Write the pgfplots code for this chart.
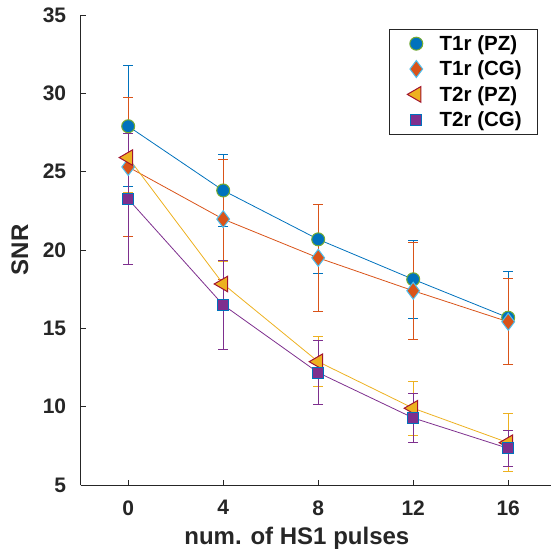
\documentclass[border=0pt]{standalone}
\usepackage{fontspec}
\setmainfont{Liberation Sans}
\usepackage{pgfplots}
\usepackage{pgfplotstable}
\pgfplotsset{compat=1.18}
\definecolor{mblue}{rgb}{0,0.447,0.741}
\definecolor{morange}{rgb}{0.850,0.325,0.098}
\definecolor{myellow}{rgb}{0.929,0.694,0.125}
\definecolor{mpurple}{rgb}{0.494,0.184,0.556}
\definecolor{mgreen}{rgb}{0.466,0.674,0.188}
\definecolor{mcyan}{rgb}{0.301,0.745,0.933}
\definecolor{mred}{rgb}{0.635,0.078,0.184}
\definecolor{axisgray}{rgb}{0.15,0.15,0.15}

\pgfplotstableread{
x y e
0 27.90 3.86
4 23.80 2.30
8 20.68 2.20
12 18.13 2.50
16 15.68 2.98
}\tonepz
\pgfplotstableread{
x y e
0 25.30 4.43
4 21.97 3.84
8 19.50 3.42
12 17.40 3.10
16 15.42 2.74
}\tonecg
\pgfplotstableread{
x y e
0 25.90 2.25
4 17.83 1.45
8 12.87 1.60
12 9.90 1.73
16 7.70 1.86
}\ttwopz
\pgfplotstableread{
x y e
0 23.25 4.20
4 16.49 2.85
8 12.17 2.05
12 9.28 1.57
16 7.34 1.17
}\ttwocg

\begin{document}
\begin{tikzpicture}[x=1pt,y=1pt]
\useasboundingbox (-80.7,-69) rectangle (469.3,485);
\begin{axis}[
  at={(0,0)}, anchor=south west,
  scale only axis, width=475pt, height=470pt,
  xmin=-2, xmax=18, ymin=5, ymax=35,
  xtick={0,4,8,12,16}, ytick={5,10,15,20,25,30,35},
  axis lines=left,
  axis line style={-, draw=axisgray, line width=0.8pt},
  tick align=inside, major tick length=5pt,
  tick style={draw=axisgray, line width=0.8pt},
  /pgf/number format/assume math mode=true,
  ticklabel style={font=\fontsize{21}{21}\selectfont\bfseries, text=axisgray},
  xticklabel style={yshift=-12pt},
  yticklabel style={xshift=-11pt},
  xlabel={num. of HS1 pulses}, ylabel={SNR},
  label style={font=\fontsize{24}{24}\selectfont\bfseries, text=axisgray},
  xlabel style={at={(axis description cs:0.455,-0.113)}, anchor=center},
  ylabel style={at={(axis description cs:-0.128,0.5)}, anchor=center},
  legend style={at={(axis description cs:0.648,0.970)}, anchor=north west,
    draw=axisgray, line width=0.8pt, font=\fontsize{20.5}{20.5}\selectfont\bfseries,
    text=black, row sep=5pt, inner xsep=8pt, inner ysep=4pt},
  legend cell align=left,
  legend image code/.code={\path (0pt,0pt) (40pt,0pt); \draw[#1] plot coordinates {(19pt,0pt)};},
  clip=false,
]
\addplot[mblue, line width=0.8pt, mark=*, mark size=6.5pt,
  mark options={fill=mblue, draw=mgreen, line width=1pt},
  error bars/.cd, y dir=both, y explicit,
  error bar style={mblue, line width=0.8pt},
  error mark options={rotate=90, mark size=5pt, mblue, line width=0.8pt}]
  table[x=x, y=y, y error=e] {\tonepz};
\addlegendentry{T1r (PZ)\hspace*{6pt}}
\addplot[morange, line width=0.8pt, mark=diamond*, mark size=8.5pt,
  mark options={fill=morange, draw=mcyan, line width=1pt},
  error bars/.cd, y dir=both, y explicit,
  error bar style={morange, line width=0.8pt},
  error mark options={rotate=90, mark size=5pt, morange, line width=0.8pt}]
  table[x=x, y=y, y error=e] {\tonecg};
\addlegendentry{T1r (CG)\hspace*{6pt}}
\addplot[myellow, line width=0.8pt, mark=triangle*, mark size=9pt,
  mark options={rotate=90, fill=myellow, draw=mred, line width=1pt},
  error bars/.cd, y dir=both, y explicit,
  error bar style={myellow, line width=0.8pt},
  error mark options={rotate=90, mark size=5pt, myellow, line width=0.8pt}]
  table[x=x, y=y, y error=e] {\ttwopz};
\addlegendentry{T2r (PZ)\hspace*{6pt}}
\addplot[mpurple, line width=0.8pt, mark=square*, mark size=5.5pt,
  mark options={fill=mpurple, draw=mblue, line width=1pt},
  error bars/.cd, y dir=both, y explicit,
  error bar style={mpurple, line width=0.8pt},
  error mark options={rotate=90, mark size=5pt, mpurple, line width=0.8pt}]
  table[x=x, y=y, y error=e] {\ttwocg};
\addlegendentry{T2r (CG)\hspace*{6pt}}
\end{axis}
\end{tikzpicture}
\end{document}
